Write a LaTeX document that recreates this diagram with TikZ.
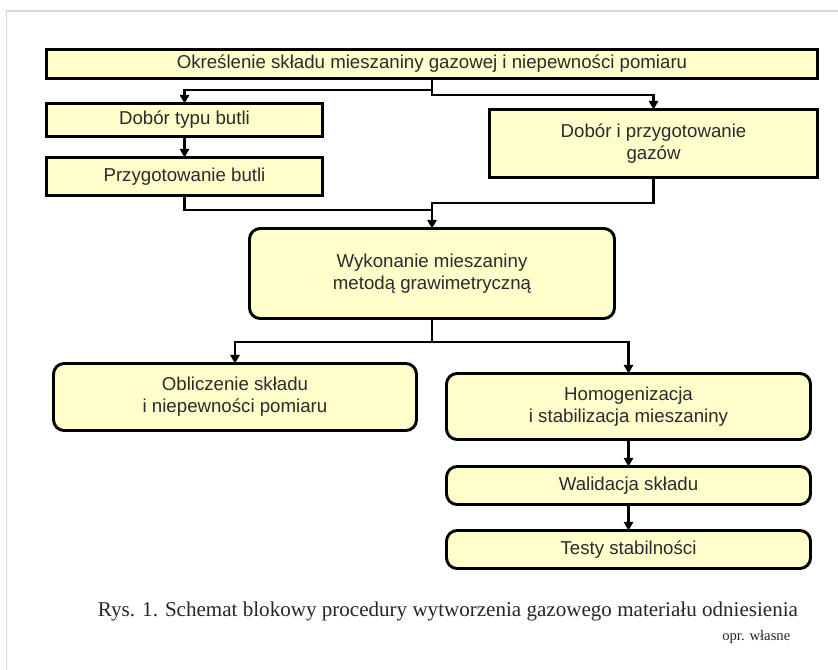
\documentclass[tikz,border=0pt]{standalone}
\usepackage{fontspec}
\setmainfont{Liberation Serif}
\newfontfamily\boxfont{Liberation Sans}
\usetikzlibrary{arrows.meta}
\definecolor{boxfill}{HTML}{FFFFCC}
\definecolor{boxtext}{HTML}{2B2B2B}
\definecolor{framegray}{HTML}{D9D9D9}
\tikzset{
  base/.style={draw=black, fill=boxfill, line width=2.2pt, inner sep=0pt, outer sep=0pt,
    align=center, text=boxtext, font=\boxfont\fontsize{14}{16.5}\selectfont},
  sqbox/.style={base, rectangle},
  rbox/.style={base, rectangle, rounded corners=8pt},
  arr/.style={line width=1.6pt, -{Triangle[length=6.5pt,width=7pt]}},
  conn/.style={line width=1.6pt},
}
\begin{document}
\begin{tikzpicture}[x=0.75pt,y=-0.75pt]
\useasboundingbox (0,0) rectangle (838,670);
\fill[white] (0,0) rectangle (838,670);
\draw[framegray, line width=1.2pt] (6.5,670) -- (6.5,11) -- (838,11);

\node[sqbox, minimum width={771*0.75pt}, minimum height={29*0.75pt}] (top) at (432,64)
  {Określenie składu mieszaniny gazowej i niepewności pomiaru};
\node[sqbox, minimum width={276*0.75pt}, minimum height={33*0.75pt}] (dob) at (184.5,120)
  {Dobór typu butli};
\node[sqbox, minimum width={276*0.75pt}, minimum height={38*0.75pt}] (prz) at (184.5,176.5)
  {Przygotowanie butli};
\node[sqbox, minimum width={328*0.75pt}, minimum height={68*0.75pt}] (gaz) at (653.5,143.5)
  {Dobór i przygotowanie\\gazów};
\node[rbox, minimum width={365*0.75pt}, minimum height={90*0.75pt}] (wyk) at (432,273.5)
  {Wykonanie mieszaniny\\metodą grawimetryczną};
\node[rbox, minimum width={363*0.75pt}, minimum height={67*0.75pt}] (obl) at (235,397)
  {Obliczenie składu\\i niepewności pomiaru};
\node[rbox, minimum width={364*0.75pt}, minimum height={66*0.75pt}] (hom) at (628.5,406.5)
  {Homogenizacja\\i stabilizacja mieszaniny};
\node[rbox, minimum width={364*0.75pt}, minimum height={38*0.75pt}] (wal) at (628.5,485.5)
  {Walidacja składu};
\node[rbox, minimum width={364*0.75pt}, minimum height={38*0.75pt}] (tes) at (628.5,549.5)
  {Testy stabilności};

\coordinate (j1) at (432,90);
\coordinate (j2) at (432,95);
\coordinate (j3) at (432,210);
\coordinate (j4) at (432,203);
\coordinate (j5) at (432,342);

\draw[arr] (top.south) -- (j1) -| (dob.north);
\draw[arr] (top.south) -- (j2) -| (gaz.north);
\draw[arr] (dob.south) -- (prz.north);
\draw[conn] (prz.south) |- (j3);
\draw[arr] (gaz.south) |- (j4) -- (wyk.north);
\draw[arr] (wyk.south) -- (j5) -| (obl.north);
\draw[arr] (j5) -| (hom.north);
\draw[arr] (hom.south) -- (wal.north);
\draw[arr] (wal.south) -- (tes.north);

\node[font=\fontsize{15.8}{18}\selectfont, text=black!85] (cap) at (448,611)
  {Rys. 1. Schemat blokowy procedury wytworzenia gazowego materiału odniesienia};
\node[font=\fontsize{11}{13}\selectfont, text=black!85, anchor=east] (src) at (795,637)
  {opr. własne};
\end{tikzpicture}
\end{document}
